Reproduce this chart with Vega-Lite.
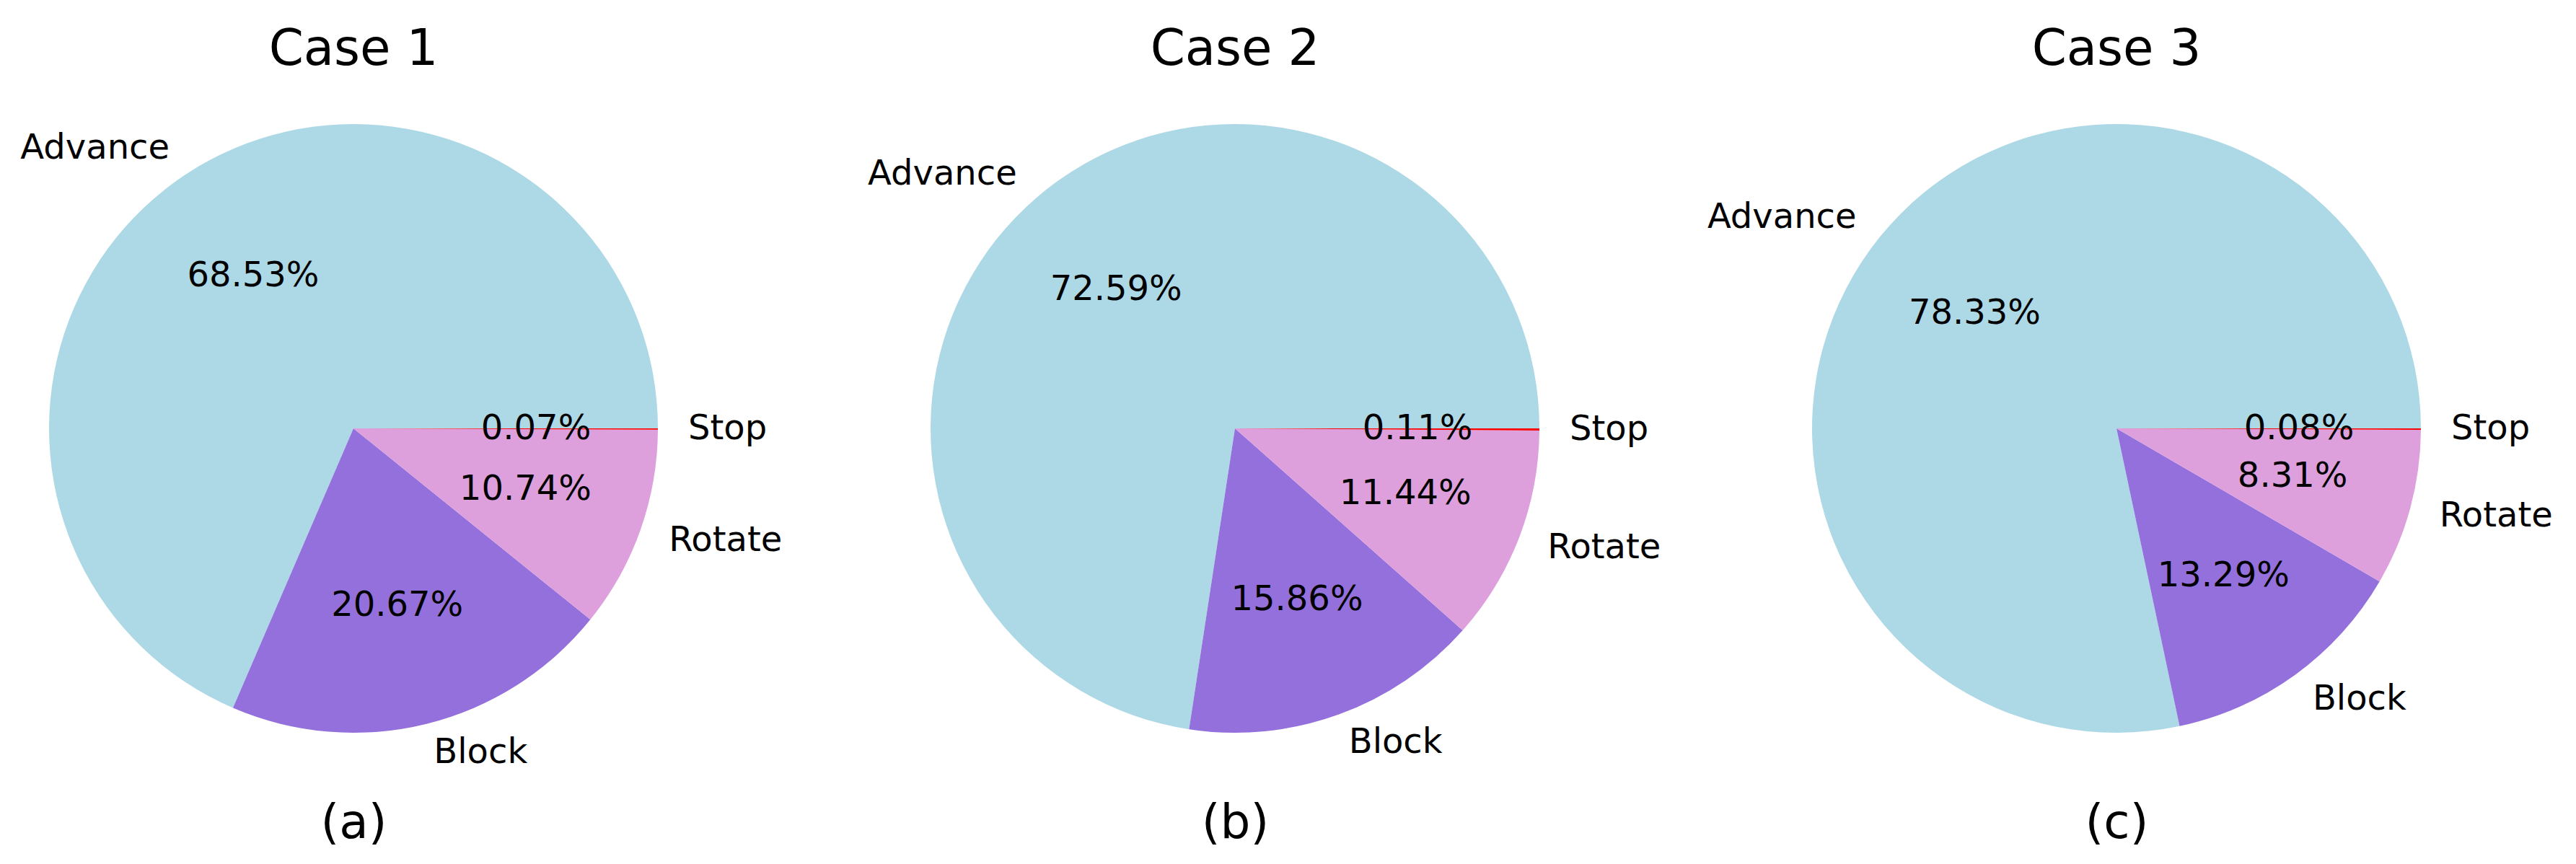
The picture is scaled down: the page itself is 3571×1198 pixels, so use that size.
{
  "$schema": "https://vega.github.io/schema/vega-lite/v6.json",
  "background": "white",
  "padding": {"left": 10, "top": 35, "right": 5, "bottom": 5},
  "config": {
    "view": {"stroke": null},
    "font": "DejaVu Sans",
    "text": {"font": "DejaVu Sans", "fontSize": 48, "color": "black"},
    "title": {"font": "DejaVu Sans", "fontWeight": "normal", "color": "black", "anchor": "middle", "frame": "group"},
    "axis": {"titleFont": "DejaVu Sans", "titleFontWeight": "normal", "titleColor": "black", "titleFontSize": 66, "labels": false, "ticks": false, "domain": false, "grid": false, "titlePadding": 32}
  },
  "data": {
    "values": [
      {"case": "Case 1", "category": "Advance", "value": 0.6853},
      {"case": "Case 1", "category": "Block", "value": 0.2067},
      {"case": "Case 1", "category": "Rotate", "value": 0.1074},
      {"case": "Case 1", "category": "Stop", "value": 0.0007},
      {"case": "Case 2", "category": "Advance", "value": 0.7259},
      {"case": "Case 2", "category": "Block", "value": 0.1586},
      {"case": "Case 2", "category": "Rotate", "value": 0.1144},
      {"case": "Case 2", "category": "Stop", "value": 0.0011},
      {"case": "Case 3", "category": "Advance", "value": 0.7833},
      {"case": "Case 3", "category": "Block", "value": 0.1329},
      {"case": "Case 3", "category": "Rotate", "value": 0.0831},
      {"case": "Case 3", "category": "Stop", "value": 0.0008}
    ]
  },
  "bounds": "flush",
  "spacing": 262,
  "hconcat": [
    {
      "title": {"text": "Case 1", "fontSize": 69, "offset": -48, "baseline": "alphabetic"},
      "width": 960, "height": 966,
      "transform": [{"filter": "datum.case == 'Case 1'"}],
      "layer": [
        {
          "encoding": {
            "theta": {"field": "value", "type": "quantitative", "stack": true, "scale": {"range": [1.5707963, 7.8539816]}},
            "order": {"field": "category", "sort": "descending"},
            "detail": {"field": "category", "type": "nominal"}
          },
          "layer": [
            {"mark": {"type": "arc", "radius": 422},
             "encoding": {"color": {"field": "category", "type": "nominal", "scale": {"domain": ["Advance", "Block", "Rotate", "Stop"], "range": ["#ADD8E6", "#9370DB", "#DDA0DD", "#FF0000"]}, "legend": null}}},
            {"mark": {"type": "text", "radius": 253, "align": "center", "baseline": "middle"},
             "encoding": {"text": {"field": "value", "type": "quantitative", "format": ".2%"}}},
            {"mark": {"type": "text", "radius": 464, "align": "left", "baseline": "middle"},
             "encoding": {"text": {"condition": {"test": "datum.category == 'Advance'", "value": ""}, "field": "category", "type": "nominal"}}},
            {"mark": {"type": "text", "radius": 464, "align": "right", "baseline": "middle"},
             "encoding": {"text": {"condition": {"test": "datum.category != 'Advance'", "value": ""}, "field": "category", "type": "nominal"}}}
          ]
        },
        {
          "mark": {"type": "point", "opacity": 0},
          "encoding": {"x": {"field": "case", "type": "nominal", "axis": {"title": "(a)"}}}
        }
      ]
    },
    {
      "title": {"text": "Case 2", "fontSize": 69, "offset": -48, "baseline": "alphabetic"},
      "width": 960, "height": 966,
      "transform": [{"filter": "datum.case == 'Case 2'"}],
      "layer": [
        {
          "encoding": {
            "theta": {"field": "value", "type": "quantitative", "stack": true, "scale": {"range": [1.5707963, 7.8539816]}},
            "order": {"field": "category", "sort": "descending"},
            "detail": {"field": "category", "type": "nominal"}
          },
          "layer": [
            {"mark": {"type": "arc", "radius": 422},
             "encoding": {"color": {"field": "category", "type": "nominal", "scale": {"domain": ["Advance", "Block", "Rotate", "Stop"], "range": ["#ADD8E6", "#9370DB", "#DDA0DD", "#FF0000"]}, "legend": null}}},
            {"mark": {"type": "text", "radius": 253, "align": "center", "baseline": "middle"},
             "encoding": {"text": {"field": "value", "type": "quantitative", "format": ".2%"}}},
            {"mark": {"type": "text", "radius": 464, "align": "left", "baseline": "middle"},
             "encoding": {"text": {"condition": {"test": "datum.category == 'Advance'", "value": ""}, "field": "category", "type": "nominal"}}},
            {"mark": {"type": "text", "radius": 464, "align": "right", "baseline": "middle"},
             "encoding": {"text": {"condition": {"test": "datum.category != 'Advance'", "value": ""}, "field": "category", "type": "nominal"}}}
          ]
        },
        {
          "mark": {"type": "point", "opacity": 0},
          "encoding": {"x": {"field": "case", "type": "nominal", "axis": {"title": "(b)"}}}
        }
      ]
    },
    {
      "title": {"text": "Case 3", "fontSize": 69, "offset": -48, "baseline": "alphabetic"},
      "width": 960, "height": 966,
      "transform": [{"filter": "datum.case == 'Case 3'"}],
      "layer": [
        {
          "encoding": {
            "theta": {"field": "value", "type": "quantitative", "stack": true, "scale": {"range": [1.5707963, 7.8539816]}},
            "order": {"field": "category", "sort": "descending"},
            "detail": {"field": "category", "type": "nominal"}
          },
          "layer": [
            {"mark": {"type": "arc", "radius": 422},
             "encoding": {"color": {"field": "category", "type": "nominal", "scale": {"domain": ["Advance", "Block", "Rotate", "Stop"], "range": ["#ADD8E6", "#9370DB", "#DDA0DD", "#FF0000"]}, "legend": null}}},
            {"mark": {"type": "text", "radius": 253, "align": "center", "baseline": "middle"},
             "encoding": {"text": {"field": "value", "type": "quantitative", "format": ".2%"}}},
            {"mark": {"type": "text", "radius": 464, "align": "left", "baseline": "middle"},
             "encoding": {"text": {"condition": {"test": "datum.category == 'Advance'", "value": ""}, "field": "category", "type": "nominal"}}},
            {"mark": {"type": "text", "radius": 464, "align": "right", "baseline": "middle"},
             "encoding": {"text": {"condition": {"test": "datum.category != 'Advance'", "value": ""}, "field": "category", "type": "nominal"}}}
          ]
        },
        {
          "mark": {"type": "point", "opacity": 0},
          "encoding": {"x": {"field": "case", "type": "nominal", "axis": {"title": "(c)"}}}
        }
      ]
    }
  ]
}
